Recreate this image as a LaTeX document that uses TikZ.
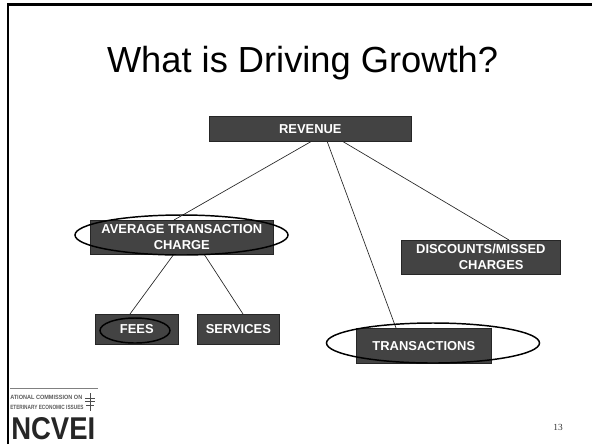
\documentclass[tikz,border=0pt]{standalone}
\usepackage{fontspec}
\setmainfont{Liberation Sans}
\newfontfamily\pageserif{Liberation Serif}
\definecolor{boxfill}{HTML}{434343}
\tikzset{x=0.75pt,y=-0.75pt,
  boxnode/.style={draw=black!85,line width=0.5pt,fill=boxfill,text=white,font=\bfseries\fontsize{9.7}{12}\selectfont,align=center,inner sep=0pt,anchor=north west},
  link/.style={draw=black!85,line width=0.5pt},
  ring/.style={draw=black,line width=1.1pt},
  frameline/.style={draw=black,line width=1.7pt}}
\begin{document}
\begin{tikzpicture}
\useasboundingbox (0,0) rectangle (592,444);
\draw[frameline] (8,444) -- (8,4.5) -- (592,4.5);
\node[anchor=base,font=\fontsize{27.2}{32}\selectfont,inner sep=0pt] (title) at (302.5,72) {What is Driving Growth?};
\node[boxnode,minimum width=202*0.75pt,minimum height=25*0.75pt] (rev) at (209,116) {REVENUE};
\node[boxnode,minimum width=183*0.75pt,minimum height=34*0.75pt] (atc) at (90,220) {AVERAGE TRANSACTION\\CHARGE};
\node[boxnode,minimum width=159*0.75pt,minimum height=34*0.75pt] (disc) at (401,240) {DISCOUNTS/MISSED\\\hspace*{1.6em}CHARGES};
\node[boxnode,minimum width=83*0.75pt,minimum height=30*0.75pt] (fees) at (95,314) {FEES};
\node[boxnode,minimum width=82*0.75pt,minimum height=30*0.75pt] (serv) at (197,314) {SERVICES};
\node[boxnode,minimum width=135*0.75pt,minimum height=35*0.75pt] (trans) at (356,328) {TRANSACTIONS};
\coordinate (r1) at (312,141);\coordinate (r2) at (327,141);\coordinate (r3) at (342,141);
\coordinate (a1) at (174,220);\coordinate (t1) at (396,328);\coordinate (d1) at (509,240);
\coordinate (a2) at (174,254);\coordinate (a3) at (204,254);\coordinate (f1) at (130,314);\coordinate (s1) at (243,314);
\draw[link] (r1) -- (a1);
\draw[link] (r2) -- (t1);
\draw[link] (r3) -- (d1);
\draw[link] (a2) -- (f1);
\draw[link] (a3) -- (s1);
\draw[ring] (181.5,235) ellipse (106.5 and 20);
\draw[ring] (135,330.5) ellipse (35 and 12.5);
\draw[ring] (433,343) ellipse (106.5 and 20);
\node[font=\fontsize{7}{8}\selectfont\pageserif,anchor=center,text=black!80] (pg) at (558,427) {13};
\draw[black!50,line width=0.7pt] (10,388) -- (98,388);
\node[anchor=west,text=black!65,inner sep=0pt] (l1) at (10,397) {\resizebox{54pt}{3.2pt}{\bfseries ATIONAL COMMISSION ON}};
\node[anchor=west,text=black!65,inner sep=0pt] (l2) at (10,407) {\resizebox{55pt}{3.2pt}{\bfseries ETERINARY ECONOMIC ISSUES}};
\node[anchor=south west,text=black!85,inner sep=0pt] (l3) at (11,440) {\resizebox{63pt}{16.5pt}{\bfseries NCVEI}};
\draw[black!70,line width=0.7pt] (90,393) -- (90,411) (85,398) -- (95,398) (85,401) -- (95,401) (86,405) -- (94,405);
\end{tikzpicture}
\end{document}
